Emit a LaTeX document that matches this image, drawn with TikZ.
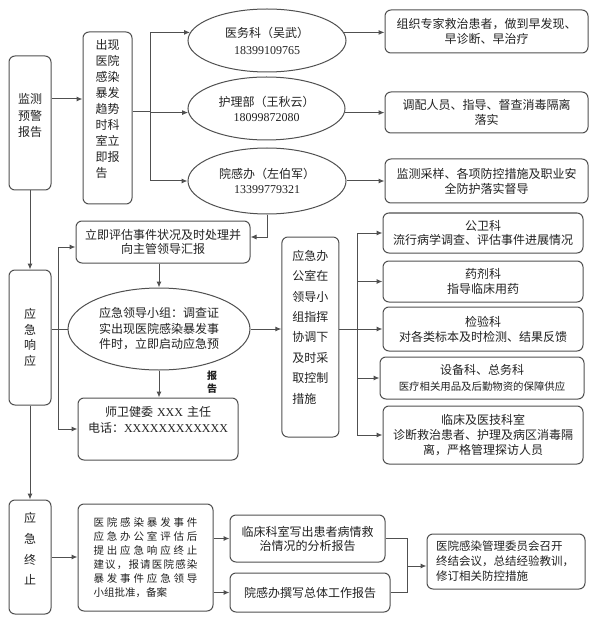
\documentclass[tikz,border=0pt]{standalone}
\usepackage{fontspec}
\setmainfont{Noto Sans CJK SC}
\newfontfamily\numf{Liberation Serif}
\usetikzlibrary{arrows.meta,shapes.geometric}
\definecolor{linec}{HTML}{505050}
\definecolor{textc}{HTML}{222222}
\makeatletter
\newcommand\spreadline[2]{\leavevmode\hbox to #1{\@tfor\sp@x:=#2\do{\sp@x\hfil}\unskip}}
\makeatother
\newcommand\fs[2]{\fontsize{#1}{#2}\selectfont}
\begin{document}
\begin{tikzpicture}[x=1pt,y=-1pt,
  box/.style={draw=linec,line width=1pt,rounded corners=6pt,fill=white,inner sep=0pt,text=textc,align=center},
  ell/.style={draw=linec,line width=1pt,ellipse,fill=white,inner sep=0pt,text=textc,align=center},
  ln/.style={draw=linec,line width=1pt},
  arr/.style={ln,-{Latex[length=6pt,width=5pt]}},
  lbl/.style={text=textc,inner sep=0pt,align=center}]
\useasboundingbox (0,0) rectangle (592,620);
\fill[white] (0,0) rectangle (592,620);

% top section
\node[box,minimum width=42pt,minimum height=134pt,text width=40pt,font=\fs{12}{16.5}] (mon) at (30,123) {监测\\预警\\报告\par\vspace*{14pt}};
\node[box,minimum width=49pt,minimum height=172pt,text width=24pt,align=left,font=\fs{12}{16}] (rep) at (107.5,118) {出现\\医院\\感染\\暴发\\趋势\\时科\\室立\\即报\\告\par\vspace*{18pt}};
\node[ell,minimum width=158pt,minimum height=63pt,font=\fs{12}{17}] (e1) at (267,40.5) {医务科（吴武）\\{\numf 18399109765}};
\node[ell,minimum width=157pt,minimum height=63pt,font=\fs{12}{15}] (e2) at (266.5,108.5) {护理部（王秋云）\\{\numf 18099872080}};
\node[ell,minimum width=158pt,minimum height=66pt,font=\fs{12}{15}] (e3) at (267,181) {院感办（左伯军）\\{\numf 13399779321}};
\node[box,minimum width=203pt,minimum height=43pt,font=\fs{12}{15}] (r1) at (486.5,31.5) {组织专家救治患者，做到早发现、\\早诊断、早治疗};
\node[box,minimum width=203pt,minimum height=41pt,font=\fs{12}{15}] (r2) at (486.5,112.5) {调配人员、指导、督查消毒隔离\\落实};
\node[box,minimum width=203pt,minimum height=44pt,font=\fs{12}{15}] (r3) at (486.5,181) {监测采样、各项防控措施及职业安\\全防护落实督导};

% middle section
\node[box,minimum width=42pt,minimum height=135pt,text width=40pt,font=\fs{12}{15.5}] (resp) at (30,337.5) {应\\急\\响\\应};
\node[box,minimum width=174pt,minimum height=42pt,font=\fs{12}{14}] (ass) at (163,242) {立即评估事件状况及时处理并\\向主管领导汇报};
\node[ell,minimum width=182pt,minimum height=82pt,font=\fs{12}{15.5}] (ld) at (159,329) {应急领导小组：调查证\\实出现医院感染暴发事\\件时，立即启动应急预};
\node[box,minimum width=160pt,minimum height=62pt,text width=150pt,font=\fs{12}{16}] (wj) at (158,429) {师卫健委 {\numf XXX} 主任\\电话：{\numf XXXXXXXXXXXX}\par\vspace*{18pt}};
\node[lbl,font=\fs{10}{13}\bfseries] (rpt) at (212,382) {报\\告};
\node[box,minimum width=57pt,minimum height=200pt,text width=36pt,align=left,font=\fs{12}{20.4}] (off) at (310.4,337) {应急办\\公室在\\领导小\\组指挥\\协调下\\及时采\\取控制\\措施\par\vspace*{20pt}};
\node[box,minimum width=200pt,minimum height=40pt,font=\fs{12}{14.5}] (g1) at (483,233) {公卫科\\流行病学调查、评估事件进展情况};
\node[box,minimum width=200pt,minimum height=41pt,font=\fs{12}{14.5}] (g2) at (483,281.5) {药剂科\\指导临床用药};
\node[box,minimum width=200pt,minimum height=44pt,font=\fs{12}{15}] (g3) at (483,329) {检验科\\对各类标本及时检测、结果反馈};
\node[box,minimum width=204pt,minimum height=42pt,font=\fs{12}{15}] (g4) at (482,378) {设备科、总务科\\[1pt]{\fs{10.4}{13}医疗相关用品及后勤物资的保障供应}};
\node[box,minimum width=200pt,minimum height=58pt,font=\fs{12}{15}] (g5) at (483,435) {临床及医技科室\\诊断救治患者、护理及病区消毒隔\\离，严格管理探访人员};

% bottom section
\node[box,minimum width=42pt,minimum height=114pt,text width=40pt,font=\fs{12}{20.7}] (term) at (30,557) {应\\急\\终\\止\par\vspace*{16pt}};
\node[box,minimum width=135pt,minimum height=107pt,text width=104pt,align=left,font=\fs{10.5}{14}] (bb) at (145.5,557.5) {\spreadline{104pt}{医院感染暴发事件}\\\spreadline{104pt}{应急办公室评估后}\\\spreadline{104pt}{提出应急响应终止}\\\spreadline{104pt}{建议，报请医院感染}\\\spreadline{104pt}{暴发事件应急领导}\\小组批准，备案};
\node[box,minimum width=155pt,minimum height=47pt,font=\fs{12}{14}] (c1) at (307.5,538.5) {临床科室写出患者病情救\\治情况的分析报告};
\node[box,minimum width=160pt,minimum height=39pt,font=\fs{12}{14}] (c2) at (310,592.5) {院感办撰写总体工作报告};
\node[box,minimum width=158pt,minimum height=55pt,text width=140pt,align=left,font=\fs{11.5}{15}] (fin) at (506,561.5) {医院感染管理委员会召开\\终结会议，总结经验教训，\\修订相关防控措施};

% connectors top
\coordinate (m1) at ([yshift=24pt]mon.east);
\draw[arr] (m1) -- (m1 -| rep.west);
\coordinate (j1) at (150,112);
\draw[ln] (j1 -| rep.east) -- (j1);
\draw[arr] (j1) |- (e1.174);
\draw[arr] (j1) |- (e2.183);
\draw[arr] (j1) |- (e3.west);
\draw[arr] (e1.6) -- (e1.6 -| r1.west);
\draw[arr] (e2.357) -- (e2.357 -| r2.west);
\draw[arr] (e3.east) -- (e3.east -| r3.west);
\draw[arr] (mon.south) -- (resp.north);
\draw[arr] (resp.south) -- (term.north);

% connectors middle
\draw[arr] (e3.south) |- ([yshift=5pt]ass.east);
\draw[arr] (ld.north |- ass.south) -- (ld.north);
\coordinate (j2) at (58,329);
\draw[ln] (resp.east |- ld.west) -- (ld.west);
\draw[arr] (j2) |- ([yshift=-5pt]ass.west);
\draw[arr] (j2) |- (wj.west);
\draw[arr] (ld.east) -- (ld.east -| off.west);
\draw[arr] (ld.south) -- (ld.south |- wj.north);
\coordinate (j3) at (357,329);
\draw[ln] (j3 -| off.east) -- (j3);
\foreach \n in {g1,g2,g3,g4,g5} \draw[arr] (j3) |- (\n.west);

% connectors bottom
\draw[arr] (term.east) -- (term.east -| bb.west);
\draw[arr] (bb.east |- c1.west) -- (c1.west);
\draw[arr] (bb.east |- c2.west) -- (c2.west);
\coordinate (j4) at (407,566);
\draw[ln] (c1.east) -| (j4);
\draw[ln] (c2.east) -| (j4);
\draw[arr] (j4) -- (j4 -| fin.west);
\end{tikzpicture}
\end{document}
